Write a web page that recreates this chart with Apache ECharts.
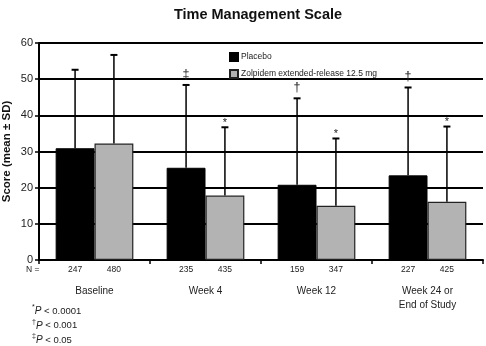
<!DOCTYPE html>
<html>
<head>
<meta charset="utf-8">
<script src="https://cdn.jsdelivr.net/npm/echarts@6/dist/echarts.min.js"></script>
<style>
  html, body { margin: 0; padding: 0; background: #fff; }
  #chart { width: 486px; height: 346px; }
</style>
</head>
<body>
<div id="chart"></div>
<script>
const categories = ["Baseline", "Week 4", "Week 12", "Week 24 or\nEnd of Study"];
const placeboMean = [30.9, 25.5, 20.8, 23.4];
const placeboSD = [21.7, 22.9, 23.9, 24.3];
const placeboMark = ["", "‡", "†", "†"];
const placeboN = [247, 235, 159, 227];
const zolpidemMean = [32.2, 17.8, 15.0, 16.1];
const zolpidemSD = [24.5, 18.9, 18.6, 20.8];
const zolpidemMark = ["", "*", "*", "*"];
const zolpidemN = [480, 435, 347, 425];
const yTicks = { min: 0, max: 60, interval: 10 };

const chart = echarts.init(document.getElementById("chart"));
const FONT = "Liberation Sans, Arial, sans-serif";
const CAT_GAP = 0.3;

// error bar + significance mark + N label, shifted left/right of category center
function errorRender(side) {
  return function (params, api) {
    const idx = api.value(0);
    const mean = api.value(1);
    const sd = api.value(2);
    const mark = api.value(3);
    const n = api.value(4);
    const band = api.size([1, 0])[0];
    const dx = side * band * (1 - CAT_GAP) / 4;
    const base = api.coord([idx, mean]);
    const top = api.coord([idx, mean + sd]);
    const zero = api.coord([idx, 0]);
    const x = base[0] + dx;
    const children = [
      { type: "line", shape: { x1: x, y1: base[1], x2: x, y2: top[1] }, style: { stroke: "#000", lineWidth: 1.5 } },
      { type: "line", shape: { x1: x - 3.5, y1: top[1], x2: x + 3.5, y2: top[1] }, style: { stroke: "#000", lineWidth: 2 } },
      { type: "text", x: x, y: zero[1] + 10, style: { text: String(n), fill: "#222", font: "8.5px " + FONT, align: "center", verticalAlign: "middle" } }
    ];
    if (mark) {
      const star = mark === "*";
      children.push({ type: "text", x: x, y: top[1] - (star ? -1 : 4), style: { text: mark, fill: "#222", font: (star ? "11px " : "12.5px ") + FONT, align: "center", verticalAlign: "bottom" } });
    }
    return { type: "group", children: children };
  };
}

const option = {
  animation: false,
  backgroundColor: "#fff",
  title: {
    text: "Time Management Scale",
    left: 253, textAlign: "center", top: 2,
    textStyle: { fontFamily: FONT, fontSize: 14.5, fontWeight: "bold", color: "#111" }
  },
  legend: {
    data: ["Placebo", "Zolpidem extended-release 12.5 mg"],
    orient: "vertical", left: 224, top: 47,
    itemWidth: 8, itemHeight: 8, itemGap: 7,
    icon: "rect",
    textStyle: { fontFamily: FONT, fontSize: 8.5, color: "#222", padding: [0, 0, 0, -2] }
  },
  grid: { left: 39, right: 3, top: 43, bottom: 86, containLabel: false, outerBoundsMode: "none" },
  xAxis: {
    type: "category",
    data: categories,
    axisLine: { lineStyle: { color: "#000", width: 2 } },
    axisTick: { show: true, length: 4, lineStyle: { color: "#000", width: 1.5 } },
    axisLabel: { margin: 24, color: "#222", fontFamily: FONT, fontSize: 10, lineHeight: 14, interval: 0 }
  },
  yAxis: {
    type: "value",
    min: yTicks.min, max: yTicks.max, interval: yTicks.interval,
    name: "Score (mean ± SD)",
    nameLocation: "middle", nameGap: 26, nameMoveOverlap: false,
    nameTextStyle: { fontFamily: FONT, fontSize: 11.5, fontWeight: "bold", color: "#111" },
    axisLine: { show: true, lineStyle: { color: "#000", width: 2 } },
    axisTick: { show: true, length: 4, lineStyle: { color: "#000", width: 1.5 } },
    axisLabel: { margin: 6, color: "#222", fontFamily: FONT, fontSize: 11 },
    splitLine: { lineStyle: { color: "#000", width: 2 } }
  },
  series: [
    {
      name: "Placebo", type: "bar", data: placeboMean,
      barGap: "0%", barCategoryGap: (CAT_GAP * 100) + "%",
      itemStyle: { color: "#000", borderColor: "#000", borderWidth: 1 }
    },
    {
      name: "Zolpidem extended-release 12.5 mg", type: "bar", data: zolpidemMean,
      itemStyle: { color: "#b3b3b3", borderColor: "#222", borderWidth: 1.2 }
    },
    {
      type: "custom", renderItem: errorRender(-1), clip: false, z: 5,
      data: placeboMean.map((m, i) => [i, m, placeboSD[i], placeboMark[i], placeboN[i]])
    },
    {
      type: "custom", renderItem: errorRender(1), clip: false, z: 5,
      data: zolpidemMean.map((m, i) => [i, m, zolpidemSD[i], zolpidemMark[i], zolpidemN[i]])
    }
  ],
  graphic: [
    { type: "text", left: 26, top: 265, style: { text: "N =", fill: "#222", font: "8.5px " + FONT } },
    {
      type: "text", left: 32, top: 304,
      style: {
        text: "{s|*}{i|P} < 0.0001\n{s|†}{i|P} < 0.001\n{s|‡}{i|P} < 0.05",
        fill: "#222", font: "9.5px " + FONT, lineHeight: 14.5,
        rich: {
          s: { fontSize: 7, verticalAlign: "top", fill: "#222", fontFamily: FONT, lineHeight: 14.5 },
          i: { fontStyle: "italic", fontSize: 10, fill: "#222", fontFamily: FONT, lineHeight: 14.5 }
        }
      }
    }
  ]
};

chart.setOption(option);
</script>
</body>
</html>
